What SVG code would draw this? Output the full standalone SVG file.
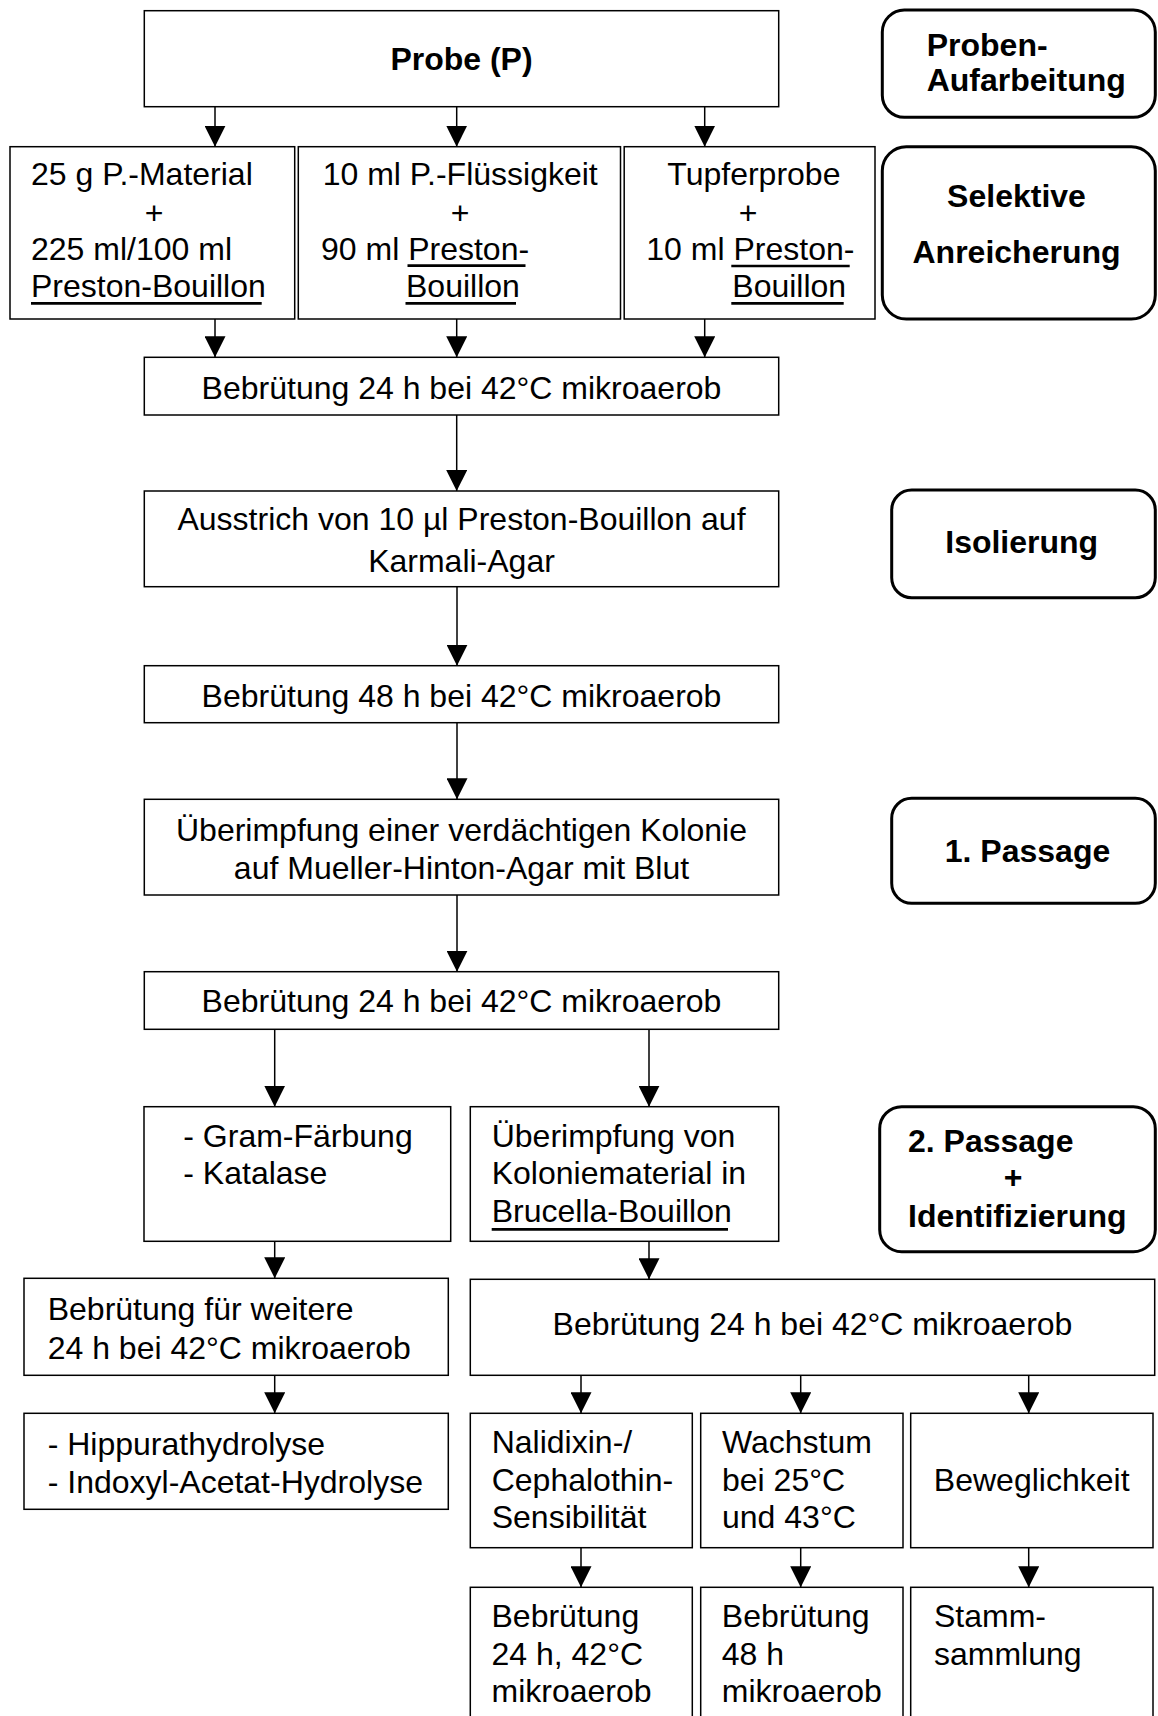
<svg xmlns="http://www.w3.org/2000/svg" width="1158" height="1716" viewBox="0 0 1158 1716">
<defs>
<style>
.b{fill:#fff;stroke:#000;stroke-width:1.5}
.ph{fill:#fff;stroke:#000;stroke-width:3}
.t{font-family:"Liberation Sans",Arial,sans-serif;font-size:32px;fill:#000}
.tb{font-family:"Liberation Sans",Arial,sans-serif;font-size:32px;font-weight:bold;fill:#000}
.c{text-anchor:middle}
.u{stroke:#000;stroke-width:2.7}
.cn line{stroke:#000;stroke-width:1.5;marker-end:url(#ah)}
</style>
<marker id="ah" markerUnits="userSpaceOnUse" viewBox="0 0 21 21" markerWidth="21" markerHeight="21" refX="21" refY="10.5" orient="auto">
<path d="M0,0L21,10.5L0,21z" fill="#000"/>
</marker>
</defs>
<rect width="1158" height="1716" fill="#fff"/>

<g id="connectors" class="cn">
<line x1="215" y1="106.7" x2="215" y2="146.7"/>
<line x1="456.7" y1="106.7" x2="456.7" y2="146.7"/>
<line x1="704.7" y1="106.7" x2="704.7" y2="146.7"/>
<line x1="215" y1="319" x2="215" y2="357.3"/>
<line x1="456.7" y1="319" x2="456.7" y2="357.3"/>
<line x1="704.7" y1="319" x2="704.7" y2="357.3"/>
<line x1="456.7" y1="415" x2="456.7" y2="491"/>
<line x1="457" y1="586.7" x2="457" y2="665.7"/>
<line x1="457" y1="722.7" x2="457" y2="799.3"/>
<line x1="457" y1="895" x2="457" y2="971.7"/>
<line x1="274.7" y1="1029.3" x2="274.7" y2="1106.7"/>
<line x1="649" y1="1029.3" x2="649" y2="1106.7"/>
<line x1="274.7" y1="1241.3" x2="274.7" y2="1278.3"/>
<line x1="649" y1="1241.3" x2="649" y2="1279.3"/>
<line x1="274.7" y1="1375.3" x2="274.7" y2="1413.3"/>
<line x1="581" y1="1375.3" x2="581" y2="1413.3"/>
<line x1="800.7" y1="1375.3" x2="800.7" y2="1413.3"/>
<line x1="1028.7" y1="1375.3" x2="1028.7" y2="1413.3"/>
<line x1="581" y1="1547.7" x2="581" y2="1587.3"/>
<line x1="800.7" y1="1547.7" x2="800.7" y2="1587.3"/>
<line x1="1028.7" y1="1547.7" x2="1028.7" y2="1587.3"/>
</g>

<g id="probe">
<rect class="b" x="144.3" y="10.7" width="634.4" height="96"/>
<text class="tb c" x="461.5" y="70">Probe (P)</text>
</g>

<g id="material">
<rect class="b" x="10" y="146.7" width="284.7" height="172.3"/>
<text class="t" x="31" y="185.3">25 g P.-Material</text>
<text class="t c" x="154" y="224">+</text>
<text class="t" x="31" y="260">225 ml/100 ml</text>
<text class="t" x="31" y="297.3">Preston-Bouillon</text>
<line class="u" x1="31" y1="303.3" x2="261.7" y2="303.3"/>
</g>

<g id="fluessigkeit">
<rect class="b" x="298.3" y="146.7" width="322.2" height="172.3"/>
<text class="t" x="322.7" y="185.3">10 ml P.-Flüssigkeit</text>
<text class="t c" x="460" y="224">+</text>
<text class="t" x="321" y="260">90 ml Preston-</text>
<line class="u" x1="407.5" y1="265.7" x2="525.5" y2="265.7"/>
<text class="t" x="406" y="297.3">Bouillon</text>
<line class="u" x1="405.5" y1="303.3" x2="516" y2="303.3"/>
</g>

<g id="tupfer">
<rect class="b" x="624.2" y="146.7" width="250.8" height="172.3"/>
<text class="t" x="667.3" y="185.3">Tupferprobe</text>
<text class="t c" x="748" y="224">+</text>
<text class="t" x="646.3" y="260">10 ml Preston-</text>
<line class="u" x1="731.3" y1="266" x2="849.7" y2="266"/>
<text class="t" x="732.3" y="297.3">Bouillon</text>
<line class="u" x1="731.3" y1="303.3" x2="843.7" y2="303.3"/>
</g>

<g id="bebruetung1">
<rect class="b" x="144.3" y="357.3" width="634.4" height="57.7"/>
<text class="t c" x="461.5" y="399">Bebrütung 24 h bei 42°C mikroaerob</text>
</g>

<g id="ausstrich">
<rect class="b" x="144.3" y="491" width="634.4" height="95.7"/>
<text class="t c" x="461.5" y="530">Ausstrich von 10 µl Preston-Bouillon auf</text>
<text class="t c" x="461.5" y="571.7">Karmali-Agar</text>
</g>

<g id="bebruetung2">
<rect class="b" x="144.3" y="665.7" width="634.4" height="57"/>
<text class="t c" x="461.5" y="706.7">Bebrütung 48 h bei 42°C mikroaerob</text>
</g>

<g id="ueberimpfung1">
<rect class="b" x="144.3" y="799.3" width="634.4" height="95.7"/>
<text class="t c" x="461.5" y="840.7">Überimpfung einer verdächtigen Kolonie</text>
<text class="t c" x="461.5" y="879">auf Mueller-Hinton-Agar mit Blut</text>
</g>

<g id="bebruetung3">
<rect class="b" x="144.3" y="971.7" width="634.4" height="57.6"/>
<text class="t c" x="461.5" y="1012.3">Bebrütung 24 h bei 42°C mikroaerob</text>
</g>

<g id="gram">
<rect class="b" x="144" y="1106.7" width="306.7" height="134.6"/>
<text class="t" x="183.3" y="1147.3">- Gram-Färbung</text>
<text class="t" x="183.3" y="1184">- Katalase</text>
</g>

<g id="brucella">
<rect class="b" x="470.3" y="1106.7" width="308.4" height="134.6"/>
<text class="t" x="491.7" y="1147.3">Überimpfung von</text>
<text class="t" x="491.7" y="1184">Koloniematerial in</text>
<text class="t" x="491.7" y="1221.7">Brucella-Bouillon</text>
<line class="u" x1="491.7" y1="1229.3" x2="728" y2="1229.3"/>
</g>

<g id="bebruetung-weitere">
<rect class="b" x="24" y="1278.3" width="424.3" height="97"/>
<text class="t" x="47.7" y="1320">Bebrütung für weitere</text>
<text class="t" x="47.7" y="1359">24 h bei 42°C mikroaerob</text>
</g>

<g id="bebruetung4">
<rect class="b" x="470.3" y="1279.3" width="684.4" height="96"/>
<text class="t c" x="812.5" y="1335">Bebrütung 24 h bei 42°C mikroaerob</text>
</g>

<g id="hippurat">
<rect class="b" x="24" y="1413.3" width="424.3" height="96"/>
<text class="t" x="47.7" y="1455">- Hippurathydrolyse</text>
<text class="t" x="47.7" y="1493.3">- Indoxyl-Acetat-Hydrolyse</text>
</g>

<g id="nalidixin">
<rect class="b" x="470.3" y="1413.3" width="222" height="134.4"/>
<text class="t" x="491.7" y="1453.3">Nalidixin-/</text>
<text class="t" x="491.7" y="1490.7">Cephalothin-</text>
<text class="t" x="491.7" y="1528.3">Sensibilität</text>
</g>

<g id="wachstum">
<rect class="b" x="700.7" y="1413.3" width="202.3" height="134.4"/>
<text class="t" x="722" y="1453.3">Wachstum</text>
<text class="t" x="722" y="1490.7">bei 25°C</text>
<text class="t" x="722" y="1528.3">und 43°C</text>
</g>

<g id="beweglichkeit">
<rect class="b" x="910.7" y="1413.3" width="242.3" height="134.4"/>
<text class="t c" x="1031.7" y="1490.7">Beweglichkeit</text>
</g>

<g id="bebruetung5">
<rect class="b" x="470.3" y="1587.3" width="222" height="135"/>
<text class="t" x="491.5" y="1626.7">Bebrütung</text>
<text class="t" x="491.5" y="1665">24 h, 42°C</text>
<text class="t" x="491.5" y="1701.7">mikroaerob</text>
</g>

<g id="bebruetung6">
<rect class="b" x="700.7" y="1587.3" width="202.3" height="135"/>
<text class="t" x="721.8" y="1626.7">Bebrütung</text>
<text class="t" x="721.8" y="1665">48 h</text>
<text class="t" x="721.8" y="1701.7">mikroaerob</text>
</g>

<g id="stammsammlung">
<rect class="b" x="910.7" y="1587.3" width="242.3" height="135"/>
<text class="t" x="934" y="1626.7">Stamm-</text>
<text class="t" x="934" y="1665">sammlung</text>
</g>

<g id="phase-probenaufarbeitung">
<rect class="ph" x="882.3" y="10" width="273" height="107.3" rx="22" ry="22"/>
<text class="tb" x="926.7" y="56">Proben-</text>
<text class="tb" x="926.7" y="90.7">Aufarbeitung</text>
</g>

<g id="phase-selektive">
<rect class="ph" x="882.3" y="146.7" width="273" height="172.3" rx="24" ry="24"/>
<text class="tb c" x="1016.5" y="207.3">Selektive</text>
<text class="tb c" x="1016.5" y="263.3">Anreicherung</text>
</g>

<g id="phase-isolierung">
<rect class="ph" x="891.7" y="490" width="263.6" height="107.7" rx="20" ry="20"/>
<text class="tb c" x="1021.7" y="553.3">Isolierung</text>
</g>

<g id="phase-passage1">
<rect class="ph" x="891.7" y="798.3" width="263.6" height="105" rx="20" ry="20"/>
<text class="tb c" x="1027.5" y="861.7">1. Passage</text>
</g>

<g id="phase-passage2">
<rect class="ph" x="879.7" y="1106.7" width="275.6" height="145" rx="22" ry="22"/>
<text class="tb" x="908" y="1152.3">2. Passage</text>
<text class="tb c" x="1013" y="1188.3">+</text>
<text class="tb" x="908" y="1226.7">Identifizierung</text>
</g>
</svg>
